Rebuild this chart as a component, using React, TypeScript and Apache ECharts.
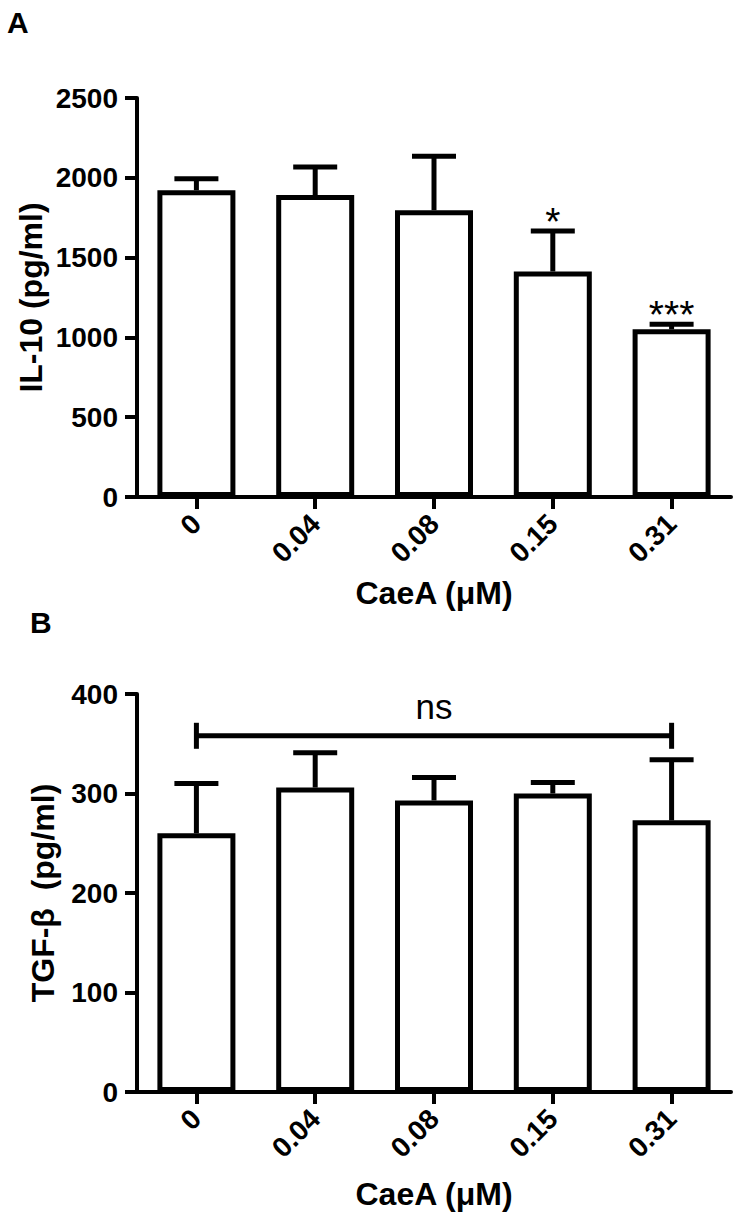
import React, { useEffect, useRef } from "react";
import * as echarts from "echarts";

const categories = ["0", "0.04", "0.08", "0.15", "0.31"];

const il10Mean = [1922, 1892, 1797, 1413, 1051];
const il10Upper = [1994, 2067, 2135, 1667, 1082];
const il10Stars = ["", "", "", "*", "***"];
const il10Max = 2500;
const il10Step = 500;

const tgfMean = [260, 306, 293, 300, 273];
const tgfUpper = [310, 341, 316, 311, 334];
const tgfMax = 400;
const tgfStep = 100;

const bracketFrom = 0;
const bracketTo = 4;
const bracketValue = 358;
const bracketLabel = "ns";

const FONT = "Liberation Sans, Arial, sans-serif";

function xAxisCfg(gridIndex: number, nameGap: number) {
  return {
    type: "category",
    gridIndex,
    data: categories,
    name: "CaeA (μM)",
    nameLocation: "middle",
    nameGap,
    nameMoveOverlap: false,
    nameTextStyle: { fontFamily: FONT, fontWeight: "bold", fontSize: 32, color: "#000" },
    axisLine: { show: true, lineStyle: { color: "#000", width: 4 } },
    axisTick: { show: true, alignWithLabel: true, length: 12, lineStyle: { color: "#000", width: 4 } },
    axisLabel: {
      rotate: 45,
      margin: 22,
      fontFamily: FONT,
      fontWeight: "bold",
      fontSize: 28,
      color: "#000",
    },
    splitLine: { show: false },
  };
}

function yAxisCfg(gridIndex: number, name: string, max: number, step: number, nameGap: number) {
  return {
    type: "value",
    gridIndex,
    min: 0,
    max,
    interval: step,
    name,
    nameLocation: "middle",
    nameRotate: 90,
    nameGap,
    nameMoveOverlap: false,
    nameTextStyle: { fontFamily: FONT, fontWeight: "bold", fontSize: 32, color: "#000" },
    axisLine: { show: true, lineStyle: { color: "#000", width: 4 } },
    axisTick: { show: true, length: 12, lineStyle: { color: "#000", width: 4 } },
    axisLabel: {
      margin: 19,
      fontFamily: FONT,
      fontWeight: "bold",
      fontSize: 28,
      color: "#000",
      formatter: (v: number) => String(v),
    },
    splitLine: { show: false },
  };
}

function barSeries(idx: number, values: number[]) {
  return {
    type: "bar",
    xAxisIndex: idx,
    yAxisIndex: idx,
    data: values,
    barWidth: 78,
    itemStyle: { color: "#fff", borderColor: "#000", borderWidth: 5 },
    z: 2,
  };
}

function errorSeries(idx: number, mean: number[], upper: number[], stars: string[] | null) {
  return {
    type: "custom",
    xAxisIndex: idx,
    yAxisIndex: idx,
    data: mean.map((m, i) => [i, m, upper[i]]),
    encode: { x: 0, y: [1, 2] },
    z: 3,
    renderItem: (params: any, api: any) => {
      const base = api.coord([api.value(0), api.value(1)]);
      const top = api.coord([api.value(0), api.value(2)]);
      const half = 22;
      const children: any[] = [
        {
          type: "line",
          shape: { x1: base[0], y1: base[1], x2: top[0], y2: top[1] },
          style: { stroke: "#000", lineWidth: 5 },
        },
        {
          type: "line",
          shape: { x1: top[0] - half, y1: top[1], x2: top[0] + half, y2: top[1] },
          style: { stroke: "#000", lineWidth: 5 },
        },
      ];
      const s = stars ? stars[params.dataIndex] : "";
      if (s) {
        children.push({
          type: "text",
          style: {
            text: s,
            x: top[0],
            y: top[1] + 10,
            align: "center",
            verticalAlign: "bottom",
            fontFamily: FONT,
            fontSize: 39,
            fill: "#000",
          },
        });
      }
      return { type: "group", children };
    },
  };
}

function bracketSeries(idx: number) {
  return {
    type: "custom",
    xAxisIndex: idx,
    yAxisIndex: idx,
    data: [[bracketFrom, bracketValue, bracketTo]],
    encode: { x: 0, y: 1 },
    z: 3,
    renderItem: (params: any, api: any) => {
      const a = api.coord([api.value(0), api.value(1)]);
      const b = api.coord([api.value(2), api.value(1)]);
      const h = 13;
      return {
        type: "group",
        children: [
          { type: "line", shape: { x1: a[0], y1: a[1], x2: b[0], y2: b[1] }, style: { stroke: "#000", lineWidth: 5 } },
          { type: "line", shape: { x1: a[0], y1: a[1] - h, x2: a[0], y2: a[1] + h }, style: { stroke: "#000", lineWidth: 5 } },
          { type: "line", shape: { x1: b[0], y1: b[1] - h, x2: b[0], y2: b[1] + h }, style: { stroke: "#000", lineWidth: 5 } },
          {
            type: "text",
            style: {
              text: bracketLabel,
              x: (a[0] + b[0]) / 2,
              y: a[1] - 12,
              align: "center",
              verticalAlign: "bottom",
              fontFamily: FONT,
              fontSize: 35,
              fill: "#000",
            },
          },
        ],
      };
    },
  };
}

export default function App() {
  const ref = useRef<HTMLDivElement>(null);
  useEffect(() => {
    if (!ref.current) return;
    const chart = echarts.init(ref.current, null, { renderer: "svg" });
    chart.setOption({
      animation: false,
      backgroundColor: "#fff",
      grid: [
        { left: 137, width: 594, top: 98, height: 399 },
        { left: 137, width: 594, top: 694, height: 398 },
      ],
      xAxis: [xAxisCfg(0, 80), xAxisCfg(1, 86)],
      yAxis: [
        yAxisCfg(0, "IL-10 (pg/ml)", il10Max, il10Step, 90),
        yAxisCfg(1, "TGF-β  (pg/ml)", tgfMax, tgfStep, 78),
      ],
      graphic: [
        { type: "text", left: 7, top: 7, style: { text: "A", fontFamily: FONT, fontWeight: "bold", fontSize: 30, fill: "#000" } },
        { type: "text", left: 30, top: 607, style: { text: "B", fontFamily: FONT, fontWeight: "bold", fontSize: 30, fill: "#000" } },
      ],
      series: [
        barSeries(0, il10Mean),
        errorSeries(0, il10Mean, il10Upper, il10Stars),
        barSeries(1, tgfMean),
        errorSeries(1, tgfMean, tgfUpper, null),
        bracketSeries(1),
      ],
    });
    return () => chart.dispose();
  }, []);
  return (
    <div
      ref={ref}
      style={{ position: "fixed", left: 0, top: 0, width: 748, height: 1232, background: "#fff" }}
    />
  );
}
